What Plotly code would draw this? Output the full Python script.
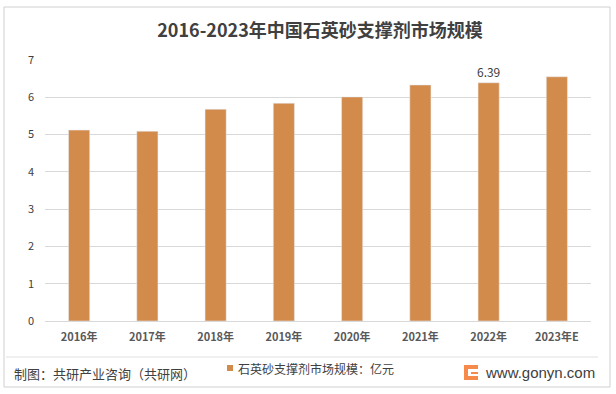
import plotly.graph_objects as go

categories = ["2016年", "2017年", "2018年", "2019年", "2020年", "2021年", "2022年", "2023年E"]
values = [5.12, 5.09, 5.68, 5.84, 6.01, 6.33, 6.39, 6.55]
labels = ["", "", "", "", "", "", "6.39", ""]
series_name = "石英砂支撑剂市场规模：亿元"
title_text = "2016-2023年中国石英砂支撑剂市场规模"
source_text = "制图：共研产业咨询（共研网）"
site_text = "www.gonyn.com"

W, H = 616, 394
L, R, T, B = 45, 25, 60, 73
PW, PH = W - L - R, H - T - B

def px(x):
    return (x - L) / PW

def py(y):
    return (H - B - y) / PH

FONT = "Noto Sans CJK SC"
BAR = "#D38B4C"

fig = go.Figure()
fig.add_trace(go.Bar(
    x=categories, y=values, name=series_name,
    marker=dict(color=BAR),
    text=labels, textposition="outside", constraintext="none",
    textfont=dict(size=12, color="#404040", family=FONT),
    cliponaxis=False, showlegend=False,
))

fig.update_layout(
    width=W, height=H,
    margin=dict(l=L, r=R, t=T, b=B),
    paper_bgcolor="white", plot_bgcolor="white",
    font=dict(family=FONT, color="#595959"),
    bargap=0.69,
    showlegend=False,
    title=dict(text="<b>" + title_text + "</b>", x=320 / W, xanchor="center",
               y=1 - 31 / H, yanchor="middle",
               font=dict(size=18, color="#404040", family=FONT)),
    xaxis=dict(showgrid=False, showline=False, ticks="",
               tickfont=dict(size=11, color="#595959", family=FONT),
               ticklabelstandoff=8,
               tickvals=categories,
               ticktext=["<b>" + c + "</b>" for c in categories]),
    yaxis=dict(range=[0, 7], dtick=1, showgrid=True, gridcolor="#d9d9d9", gridwidth=1,
               zeroline=True, zerolinecolor="#d9d9d9", zerolinewidth=1,
               showline=False, ticks="",
               tickfont=dict(size=11, color="#404040", family=FONT),
               ticklabelstandoff=10),
)

shapes = [
    dict(type="rect", xref="paper", yref="paper", x0=px(4), x1=px(610), y0=py(387), y1=py(7),
         line=dict(color="#d0d0d0", width=1), fillcolor="rgba(0,0,0,0)", layer="below"),
    dict(type="line", xref="paper", yref="paper", x0=px(6), x1=px(598), y0=py(357), y1=py(357),
         line=dict(color="#e0e0e0", width=1)),
    # legend marker
    dict(type="rect", xref="paper", yref="paper", x0=px(227), x1=px(233), y0=py(371), y1=py(365),
         line=dict(width=0), fillcolor=BAR),
    # logo mark
    dict(type="rect", xref="paper", yref="paper", x0=px(464), x1=px(478), y0=py(380), y1=py(365),
         line=dict(width=0), fillcolor="#F58A4B"),
    dict(type="rect", xref="paper", yref="paper", x0=px(468), x1=px(478), y0=py(376), y1=py(369),
         line=dict(width=0), fillcolor="white"),
    dict(type="rect", xref="paper", yref="paper", x0=px(471), x1=px(478), y0=py(374), y1=py(372),
         line=dict(width=0), fillcolor="#F58A4B"),
]
fig.update_layout(shapes=shapes)

fig.add_annotation(text=series_name, xref="paper", yref="paper", x=px(236), y=py(368),
                   xanchor="left", yanchor="middle", showarrow=False,
                   font=dict(size=12, color="#404040", family=FONT))
fig.add_annotation(text=source_text, xref="paper", yref="paper", x=px(12), y=py(373),
                   xanchor="left", yanchor="middle", showarrow=False,
                   font=dict(size=13, color="#404040", family=FONT))
fig.add_annotation(text=site_text, xref="paper", yref="paper", x=px(597), y=py(372),
                   xanchor="right", yanchor="middle", showarrow=False,
                   font=dict(size=15, color="#404040", family="Liberation Sans"))

fig.write_html("out.html", config={"displayModeBar": False},
               post_script="document.body.style.margin='0px';")
